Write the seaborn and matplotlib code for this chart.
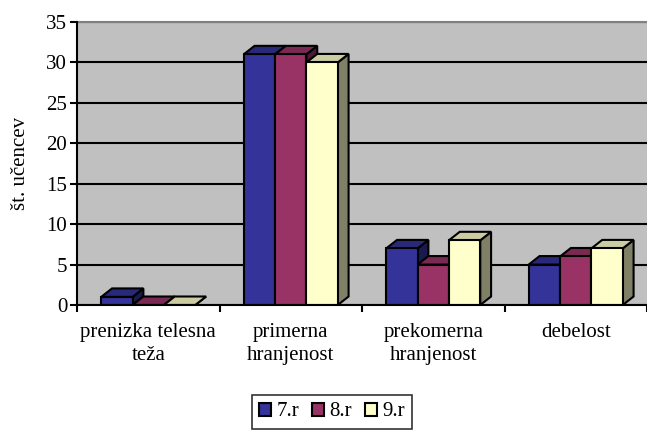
import matplotlib
matplotlib.use("Agg")
import matplotlib.pyplot as plt
import matplotlib.colors as mcolors
from matplotlib.patches import Polygon, Patch
import seaborn as sns
import pandas as pd

categories = ["prenizka telesna\nteža", "primerna\nhranjenost", "prekomerna\nhranjenost", "debelost"]
series = ["7.r", "8.r", "9.r"]
r7 = [1, 31, 7, 5]
r8 = [0, 31, 5, 6]
r9 = [0, 30, 8, 7]
y_ticks = [0, 5, 10, 15, 20, 25, 30, 35]
y_label = "št. učencev"
colors = ["#333399", "#993366", "#FFFFCC"]

rows = []
for s, vals in zip(series, [r7, r8, r9]):
    for c, v in zip(categories, vals):
        rows.append({"category": c, "series": s, "value": v})
df = pd.DataFrame(rows)

plt.rcParams['font.family'] = ['Liberation Serif', 'DejaVu Serif']
FS = 15
W, H = 647, 430
fig = plt.figure(figsize=(W / 100, H / 100), dpi=100)
ax_left, ax_right, ax_top, ax_bot = 77, 647, 22, 305
ax = fig.add_axes([ax_left / W, (H - ax_bot) / H, (ax_right - ax_left) / W, (ax_bot - ax_top) / H])

sns.barplot(data=df, x="category", y="value", hue="series", order=categories,
            hue_order=series, palette=colors, saturation=1, width=0.66,
            edgecolor="black", linewidth=1.5, ax=ax, legend=False)

cat_px = 145.0
ax.set_xlim(-0.5, -0.5 + (ax_right - ax_left) / cat_px)
ax.set_ylim(0, 35)
ax.set_facecolor("#C0C0C0")

# 3D depth offsets (pixels -> data units)
px_per_unit_y = (ax_bot - ax_top) / 35.0
dx = 11.0 / cat_px
dy = 8.5 / px_per_unit_y

def shade(c, f):
    r, g, b = mcolors.to_rgb(c)
    return (r * f, g * f, b * f)

bars = sorted([p for p in ax.patches], key=lambda p: p.get_x())
for i, p in enumerate(bars):
    x = p.get_x(); w = p.get_width(); h = p.get_height()
    fc = p.get_facecolor()
    z = 3 + i * 3
    side = Polygon([(x + w, 0), (x + w + dx, dy), (x + w + dx, h + dy), (x + w, h)],
                   closed=True, facecolor=shade(fc, 0.5), edgecolor="black", linewidth=1.5,
                   zorder=z, joinstyle="miter")
    top = Polygon([(x, h), (x + w, h), (x + w + dx, h + dy), (x + dx, h + dy)],
                  closed=True, facecolor=shade(fc, 0.8), edgecolor="black", linewidth=1.5,
                  zorder=z + 1, joinstyle="miter")
    ax.add_patch(side)
    ax.add_patch(top)
    p.set_zorder(z + 2)

ax.set_yticks(y_ticks)
ax.set_yticklabels([str(t) for t in y_ticks], fontsize=FS)
ax.yaxis.grid(True, color="black", linewidth=1.5)
ax.set_axisbelow(True)

ax.set_xticks([-0.5, 0.5, 1.5, 2.5, 3.5])
ax.set_xticklabels([])
ax.set_xticks(range(len(categories)), minor=True)
ax.set_xticklabels(categories, minor=True, fontsize=FS, linespacing=1.3)
ax.tick_params(axis="x", which="minor", length=0, pad=13)
ax.tick_params(axis="x", which="major", length=5, width=1.5, direction="out")
ax.tick_params(axis="y", length=5, width=1.5, direction="out", pad=2)

ax.set_xlabel("")
ax.set_ylabel(y_label, fontsize=FS)
ax.yaxis.set_label_coords((30 - ax_left) / (ax_right - ax_left), 0.5)

for s in ["left", "bottom"]:
    ax.spines[s].set_color("black")
    ax.spines[s].set_linewidth(1.5)
    ax.spines[s].set_zorder(100)
ax.spines["top"].set_color("#808080")
ax.spines["top"].set_linewidth(1.5)
ax.spines["right"].set_visible(False)

handles = [Patch(facecolor=c, edgecolor="black", linewidth=1.5, label=s) for c, s in zip(colors, series)]
leg = fig.legend(handles=handles, loc="center", bbox_to_anchor=(332 / W, (H - 412) / H),
                 ncol=3, fontsize=FS, frameon=True, fancybox=False, edgecolor="black",
                 handlelength=0.6, handleheight=0.6, handletextpad=0.25, columnspacing=0.6,
                 borderpad=0.35)
leg.get_frame().set_linewidth(1.2)

fig.savefig("out.png", dpi=100, facecolor="white")
